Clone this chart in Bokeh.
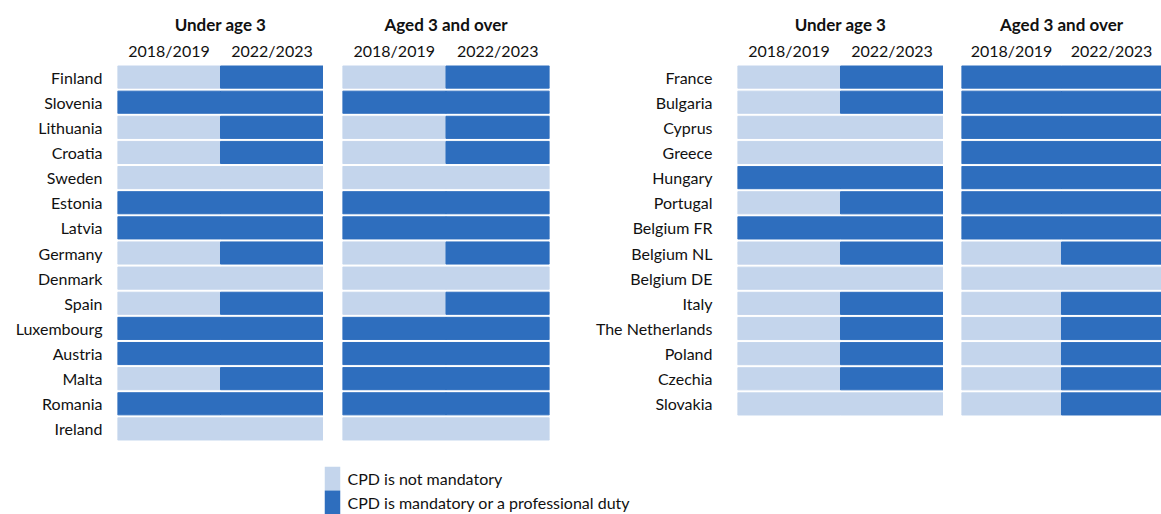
from bokeh.plotting import figure
from bokeh.models import FactorRange, ColumnDataSource
from bokeh.layouts import row, column
from bokeh.embed import file_html
from bokeh.resources import INLINE

# ---------------- data ----------------
GROUPS = ["Under age 3", "Aged 3 and over"]
YEARS = ["2018/2019", "2022/2023"]
STATUS = ["CPD is not mandatory", "CPD is mandatory or a professional duty"]

left_countries = ["Finland", "Slovenia", "Lithuania", "Croatia", "Sweden", "Estonia",
                  "Latvia", "Germany", "Denmark", "Spain", "Luxembourg", "Austria",
                  "Malta", "Romania", "Ireland"]
# columns: Under3 2018/19, Under3 2022/23, 3+ 2018/19, 3+ 2022/23 (0 = not mandatory, 1 = mandatory)
left_values = [
    [0, 1, 0, 1],  # Finland
    [1, 1, 1, 1],  # Slovenia
    [0, 1, 0, 1],  # Lithuania
    [0, 1, 0, 1],  # Croatia
    [0, 0, 0, 0],  # Sweden
    [1, 1, 1, 1],  # Estonia
    [1, 1, 1, 1],  # Latvia
    [0, 1, 0, 1],  # Germany
    [0, 0, 0, 0],  # Denmark
    [0, 1, 0, 1],  # Spain
    [1, 1, 1, 1],  # Luxembourg
    [1, 1, 1, 1],  # Austria
    [0, 1, 1, 1],  # Malta
    [1, 1, 1, 1],  # Romania
    [0, 0, 0, 0],  # Ireland
]

right_countries = ["France", "Bulgaria", "Cyprus", "Greece", "Hungary", "Portugal",
                   "Belgium FR", "Belgium NL", "Belgium DE", "Italy", "The Netherlands",
                   "Poland", "Czechia", "Slovakia"]
right_values = [
    [0, 1, 1, 1],  # France
    [0, 1, 1, 1],  # Bulgaria
    [0, 0, 1, 1],  # Cyprus
    [0, 0, 1, 1],  # Greece
    [1, 1, 1, 1],  # Hungary
    [0, 1, 1, 1],  # Portugal
    [1, 1, 1, 1],  # Belgium FR
    [0, 1, 0, 1],  # Belgium NL
    [0, 0, 0, 0],  # Belgium DE
    [0, 1, 0, 1],  # Italy
    [0, 1, 0, 1],  # The Netherlands
    [0, 1, 0, 1],  # Poland
    [0, 1, 0, 1],  # Czechia
    [0, 0, 0, 1],  # Slovakia
]

COLORS = ["#C4D5EC", "#2E6EBE"]
FONT = "Lato"
TXT = "#111111"
TOP_H = 458


def style_common(p):
    p.outline_line_color = None
    p.grid.visible = False
    p.background_fill_color = None
    p.border_fill_color = "white"
    p.frame_align = False


def make_group(countries, values, gi, y_range, width, bl, br, bb, show_y, standoff):
    xs, ys, cols = [], [], []
    for c, vals in zip(countries, values):
        for yi, yr in enumerate(YEARS):
            v = vals[gi * 2 + yi]
            xs.append(yr)
            ys.append(c)
            cols.append(COLORS[v])
    src = ColumnDataSource(dict(x=xs, y=ys, color=cols))

    p = figure(width=width, height=TOP_H, x_range=FactorRange(*YEARS, range_padding=0),
               y_range=y_range, output_backend="svg", toolbar_location=None,
               x_axis_location="above", y_axis_location="left" if show_y else None,
               title=GROUPS[gi], title_location="above",
               min_border_left=bl, min_border_right=br,
               min_border_top=64, min_border_bottom=bb)
    style_common(p)
    p.rect(x="x", y="y", width=1, height=0.88, source=src,
           fill_color="color", line_color="color", line_width=1)

    t = p.title
    t.align = "center"
    t.text_font = FONT
    t.text_font_size = "17px"
    t.text_font_style = "bold"
    t.text_color = TXT
    t.standoff = 6

    xa = p.xaxis[0]
    xa.axis_line_color = None
    xa.major_tick_line_color = None
    xa.major_tick_out = 0
    xa.major_label_standoff = 5
    xa.major_label_text_font = FONT
    xa.major_label_text_font_size = "16px"
    xa.major_label_text_color = TXT

    if show_y:
        ya = p.yaxis[0]
        ya.axis_line_color = None
        ya.major_tick_line_color = None
        ya.major_tick_out = 0
        ya.major_label_standoff = standoff
        ya.major_label_text_font = FONT
        ya.major_label_text_font_size = "16px"
        ya.major_label_text_color = TXT
    return p


yl = FactorRange(*list(reversed(left_countries)), range_padding=0)
yr = FactorRange(*list(reversed(right_countries)), range_padding=0)

L1 = make_group(left_countries, left_values, 0, yl, 323, 117, 0, 17, True, 15)
L2 = make_group(left_countries, left_values, 1, yl, 252, 19, 26, 17, False, 0)
R1 = make_group(right_countries, right_values, 0, yr, 368, 162, 0, 42, True, 25)
R2 = make_group(right_countries, right_values, 1, yr, 218, 18, 0, 42, False, 0)

# ---------------- legend (swatches + labels) ----------------
lsrc = ColumnDataSource(dict(k=["key", "key"], s=STATUS, color=COLORS))
lg = figure(width=650, height=56, x_range=FactorRange("key", range_padding=0),
            y_range=FactorRange(*list(reversed(STATUS)), range_padding=0),
            output_backend="svg", toolbar_location=None,
            x_axis_location=None, y_axis_location="right",
            min_border_left=324, min_border_right=310, min_border_top=8, min_border_bottom=0)
style_common(lg)
lg.rect(x="k", y="s", width=1, height=1, source=lsrc, fill_color="color", line_color=None)
la = lg.yaxis[0]
la.axis_line_color = None
la.major_tick_line_color = None
la.major_tick_out = 0
la.major_label_standoff = 7
la.major_label_text_font = FONT
la.major_label_text_font_size = "16px"
la.major_label_text_color = TXT

layout = column(row(L1, L2, R1, R2, spacing=0), lg, spacing=0)
open("out.html", "w").write(file_html(layout, INLINE))
